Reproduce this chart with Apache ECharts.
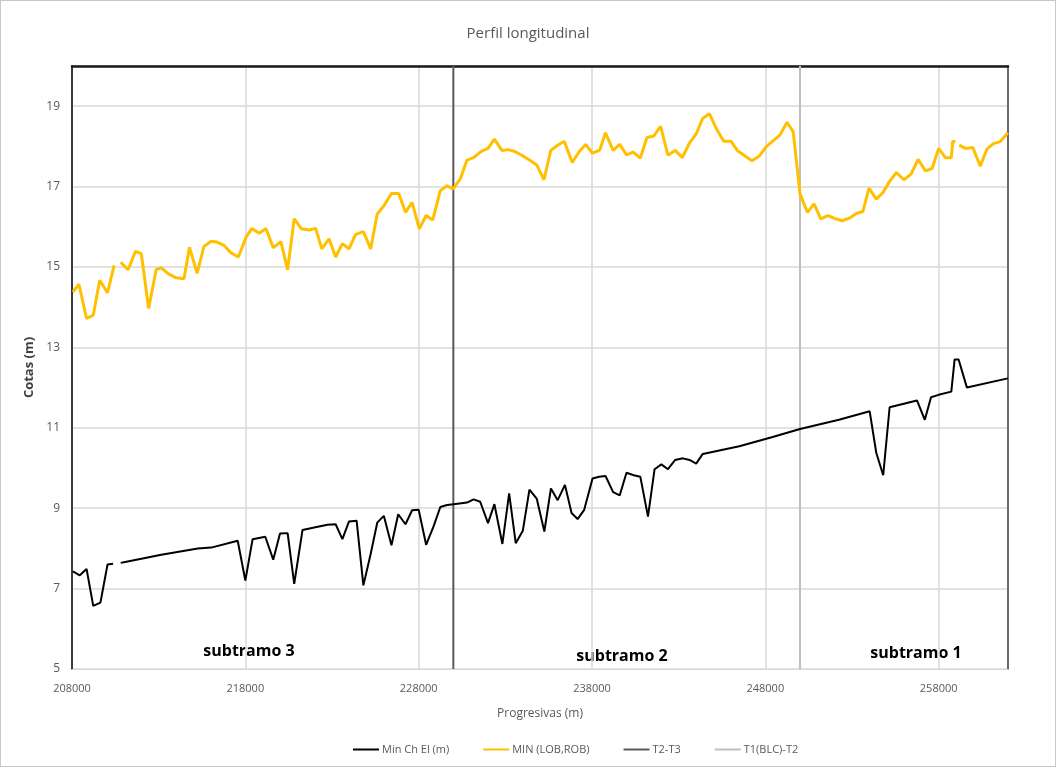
<!DOCTYPE html>
<html lang="es">
<head>
    <meta http-equiv="Content-Type" Content="text/html; charset=utf-8">
    <script src="https://cdn.jsdelivr.net/npm/echarts@6/dist/echarts.min.js"></script>
    <style>
        html,body{ margin:0; padding:0; background:#fff; }
        #main{ width:1056px; height:767px; box-sizing:border-box; border:1px solid #c8c8c8; }
    </style>
</head>
<body>
<div id="main"></div>
<script type="text/javascript">
    // progresivas (m) y cotas de "MIN (LOB,ROB)", null = tramo sin dato
    var progMin = [208050,208400,208840,209225,209600,210050,210430,210620,210810,211240,211660,212000,212420,212860,213150,213570,214010,214460,214780,215220,215610,216030,216370,216790,217180,217600,218040,218380,218800,219190,219610,220050,220440,220820,221240,221680,222060,222410,222830,223210,223600,223980,224360,224810,225230,225610,225990,226430,226850,227240,227620,228040,228430,228810,229250,229640,229980,230400,230790,231170,231590,232000,232370,232800,233180,233560,233950,234390,234810,235230,235620,236020,236400,236860,237260,237630,238030,238450,238780,239220,239600,239990,240370,240790,241170,241570,241960,242380,242800,243210,243630,244010,244390,244780,245200,245600,246020,246400,246830,247230,247650,248040,248420,248840,249250,249610,250000,250430,250810,251200,251620,252060,252440,252870,253250,253630,253980,254400,254780,255170,255570,255990,256410,256810,257240,257620,258000,258390,258730,258810,258960,259080,259190,259540,259970,260400,260780,261160,261550,261990];
    var cotaMin = [14.38,14.57,13.72,13.80,14.67,14.36,15.04,null,15.12,14.93,15.39,15.33,13.97,14.94,14.98,14.83,14.73,14.71,15.49,14.84,15.51,15.64,15.62,15.53,15.35,15.25,15.74,15.96,15.84,15.96,15.48,15.63,14.93,16.20,15.95,15.92,15.96,15.45,15.70,15.25,15.58,15.45,15.81,15.88,15.45,16.32,16.52,16.83,16.83,16.36,16.61,15.95,16.28,16.17,16.90,17.02,16.94,17.19,17.66,17.72,17.87,17.95,18.18,17.90,17.92,17.87,17.78,17.66,17.54,17.17,17.90,18.03,18.13,17.60,17.87,18.05,17.83,17.91,18.34,17.90,18.05,17.79,17.86,17.71,18.22,18.26,18.50,17.78,17.90,17.72,18.09,18.31,18.70,18.81,18.42,18.13,18.13,17.89,17.76,17.64,17.76,17.99,18.13,18.28,18.60,18.36,16.82,16.36,16.57,16.20,16.28,16.20,16.15,16.22,16.33,16.38,16.96,16.69,16.85,17.13,17.35,17.17,17.31,17.68,17.39,17.45,17.95,17.72,17.72,18.13,18.11,null,18.03,17.95,17.97,17.51,17.93,18.07,18.12,18.34];

    // progresivas (m) y cotas de "Min Ch El (m)"
    var progCh = [208050,208450,208840,209225,209640,210050,210370,210600,210810,211140,213150,215260,216030,217560,218000,218420,219150,219610,220000,220440,220820,221300,221970,222740,223210,223600,223980,224420,224810,225230,225610,225990,226430,226820,227240,227620,228000,228430,228870,229250,229640,230020,230790,231170,231550,232000,232370,232830,233220,233600,234010,234390,234810,235250,235630,236020,236440,236820,237170,237550,238030,238410,238780,239220,239600,239990,240410,240790,241230,241610,242000,242380,242800,243240,243630,244010,244390,246500,248420,250000,252250,254020,254400,254800,255170,255990,256750,257200,257560,258000,258730,258920,259150,259630,261990];
    var cotaCh = [7.43,7.33,7.49,6.57,6.65,7.60,7.62,null,7.64,7.67,7.84,8.00,8.02,8.19,7.20,8.23,8.29,7.72,8.37,8.38,7.12,8.46,8.52,8.59,8.60,8.23,8.67,8.69,7.08,7.86,8.64,8.81,8.08,8.85,8.60,8.95,8.96,8.09,8.56,9.03,9.08,9.10,9.14,9.22,9.16,8.63,9.10,8.11,9.37,8.13,8.44,9.46,9.24,8.42,9.49,9.20,9.58,8.88,8.73,8.96,9.74,9.78,9.80,9.40,9.32,9.88,9.82,9.78,8.79,9.97,10.09,9.97,10.20,10.24,10.20,10.11,10.35,10.54,10.77,10.97,11.20,11.41,10.38,9.82,11.51,11.60,11.68,11.20,11.76,11.82,11.90,12.70,12.70,12.00,12.23];

    // limites de subtramos
    var limT2T3 = 230000;
    var limT1T2 = 250000;

    var ejeX = { min: 208000, max: 262000, paso: 10000 };
    var ejeY = { min: 5, max: 20, paso: 2 };

    function pares(xs, ys){
        var out = [];
        for(var i = 0;i<xs.length;i++){
            out.push([xs[i], ys[i] === null ? '-' : ys[i]]);
        }
        return out;
    }

    var fuente = '"Open Sans", "Noto Sans", sans-serif';
    var myChart = echarts.init(document.getElementById('main'));
    myChart.setOption({
        animation:false,
        textStyle:{ fontFamily: fuente },
        title:{
            text:'Perfil longitudinal',
            left:'center',
            top:20,
            textStyle:{ fontSize:15, fontWeight:'normal', color:'#595959', fontFamily: fuente }
        },
        grid:{ left:71, right:47, top:65, bottom:97 },
        legend:{
            bottom:6,
            left:347,
            icon:'rect',
            itemWidth:26,
            itemHeight:2,
            itemGap:34,
            textStyle:{ fontSize:11, color:'#595959', padding:[0,0,0,-2] },
            data:['Min Ch El (m)',{ name:'MIN (LOB,ROB)', itemStyle:{ color:'#FFC000' } },'T2-T3','T1(BLC)-T2']
        },
        xAxis:[{
            type:'value',
            min:ejeX.min, max:ejeX.max, interval:ejeX.paso,
            name:'Progresivas (m)',
            nameLocation:'middle',
            nameGap:39,
            nameTextStyle:{ fontSize:12, color:'#595959' },
            axisLine:{ show:true, lineStyle:{ color:'#d9d9d9', width:1 } },
            axisTick:{ show:false },
            axisLabel:{ color:'#595959', fontSize:11, margin:14, showMaxLabel:false,
                formatter:function (v) { return String(v); } },
            splitLine:{ show:true, lineStyle:{ color:'#d9d9d9', width:1.5 } }
        },{
            type:'value', position:'top',
            min:ejeX.min, max:ejeX.max,
            axisLine:{ show:true, lineStyle:{ color:'#1a1a1a', width:2.5 } },
            axisTick:{ show:false }, axisLabel:{ show:false }, splitLine:{ show:false }
        }],
        yAxis:[{
            type:'value',
            min:ejeY.min, max:ejeY.max, interval:ejeY.paso,
            name:'Cotas (m)',
            nameLocation:'middle',
            nameGap:36,
            nameTextStyle:{ fontSize:13, fontWeight:'bold', color:'#404040' },
            axisLine:{ show:true, lineStyle:{ color:'#3a3a3a', width:2 } },
            axisTick:{ show:false },
            axisLabel:{ color:'#595959', fontSize:12, margin:12, showMaxLabel:false },
            splitLine:{ show:true, lineStyle:{ color:'#d9d9d9', width:1.5 } }
        },{
            type:'value', position:'right',
            min:ejeY.min, max:ejeY.max,
            axisLine:{ show:true, lineStyle:{ color:'#6a6a6a', width:2 } },
            axisTick:{ show:false }, axisLabel:{ show:false }, splitLine:{ show:false }
        }],
        series:[{
            name:'Min Ch El (m)',
            type:'line',
            symbol:'none',
            lineStyle:{ color:'#000000', width:2 },
            itemStyle:{ color:'#000000' },
            z:4,
            data: pares(progCh, cotaCh)
        },{
            name:'MIN (LOB,ROB)',
            type:'line',
            symbol:'none',
            lineStyle:{ color:'#FFC000', width:3 },
            itemStyle:{ color:'#FFC000' },
            z:4,
            data: pares(progMin, cotaMin)
        },{
            name:'T2-T3',
            type:'line',
            symbol:'none',
            lineStyle:{ color:'#595959', width:2 },
            itemStyle:{ color:'#595959' },
            data: [[limT2T3, ejeY.min],[limT2T3, ejeY.max]]
        },{
            name:'T1(BLC)-T2',
            type:'line',
            symbol:'none',
            lineStyle:{ color:'#bfbfbf', width:2 },
            itemStyle:{ color:'#bfbfbf' },
            data: [[limT1T2, ejeY.min],[limT1T2, ejeY.max]]
        }],
        graphic:[
            { type:'text', x:248, y:650, style:{ text:'subtramo 3', fill:'#000', font:'bold 16px ' + fuente, align:'center', verticalAlign:'middle' } },
            { type:'text', x:621, y:655, style:{ text:'subtramo 2', fill:'#000', font:'bold 16px ' + fuente, align:'center', verticalAlign:'middle' } },
            { type:'text', x:915, y:652, style:{ text:'subtramo 1', fill:'#000', font:'bold 16px ' + fuente, align:'center', verticalAlign:'middle' } }
        ]
    });
</script>
</body>
</html>
